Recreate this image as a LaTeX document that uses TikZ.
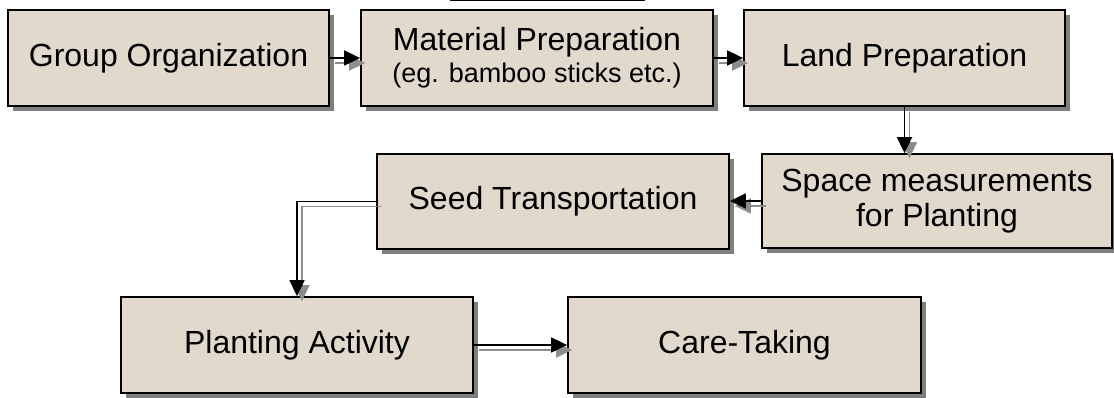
\documentclass[tikz,border=0pt]{standalone}
\usepackage{fontspec}
\setmainfont{Liberation Sans}
\usetikzlibrary{arrows.meta,shadows}
\definecolor{boxfill}{RGB}{225,217,204}
\definecolor{boxshade}{RGB}{128,128,128}
\definecolor{linkshade}{RGB}{140,140,140}
\begin{document}
\begin{tikzpicture}[x=1pt,y=-1pt,
  stepbox/.style={draw=black, line width=1.8pt, fill=boxfill, inner sep=0pt,
    align=center, font=\fontsize{32}{35}\selectfont, minimum height=96pt,
    drop shadow={shadow xshift=5pt, shadow yshift=-5pt, fill=boxshade, opacity=1}},
  link/.style={draw=black, line width=1.8pt, -{Triangle[length=16pt,width=15pt]}},
  linkshadow/.style={draw=linkshade, line width=1.6pt, -{Triangle[length=16pt,width=15pt]},
    transform canvas={shift={(5pt,-5pt)}}},
]
\useasboundingbox (0,0) rectangle (1114,397);

% process steps
\node[stepbox, minimum width=321pt] (org)  at (168.5,58)  {Group Organization};
\node[stepbox, minimum width=352pt] (mat)  at (537,58)    {Material Preparation\\[-3pt]{\fontsize{27}{30}\selectfont (eg. bamboo sticks etc.)}};
\node[stepbox, minimum width=321pt] (land) at (904.5,58)  {Land Preparation};
\node[stepbox, minimum width=350pt, minimum height=94pt] (space) at (937,201) {Space measurements\\for Planting};
\node[stepbox, minimum width=352pt, minimum height=95pt] (seed)  at (553,201.5) {Seed Transportation};
\node[stepbox, minimum width=352pt] (plant) at (297,345)  {Planting Activity};
\node[stepbox, minimum width=353pt] (care)  at (744.5,345) {Care-Taking};

% rule at the top edge
\coordinate (ruleL) at (450,0.5);
\coordinate (ruleR) at (645,0.5);
\draw[line width=1.5pt] (ruleL) -- (ruleR);

% connector shadows
\draw[linkshadow] (org.east) -- (mat.west);
\draw[linkshadow] (mat.east) -- (land.west);
\draw[linkshadow] (land.south) -- (land.south |- space.north);
\draw[linkshadow] (space.west) -- (space.west -| seed.east);
\draw[linkshadow] (seed.west) -| (plant.north);
\draw[linkshadow] (plant.east) -- (care.west);

% connectors
\draw[link] (org.east) -- (mat.west);
\draw[link] (mat.east) -- (land.west);
\draw[link] (land.south) -- (land.south |- space.north);
\draw[link] (space.west) -- (space.west -| seed.east);
\draw[link] (seed.west) -| (plant.north);
\draw[link] (plant.east) -- (care.west);
\end{tikzpicture}
\end{document}
